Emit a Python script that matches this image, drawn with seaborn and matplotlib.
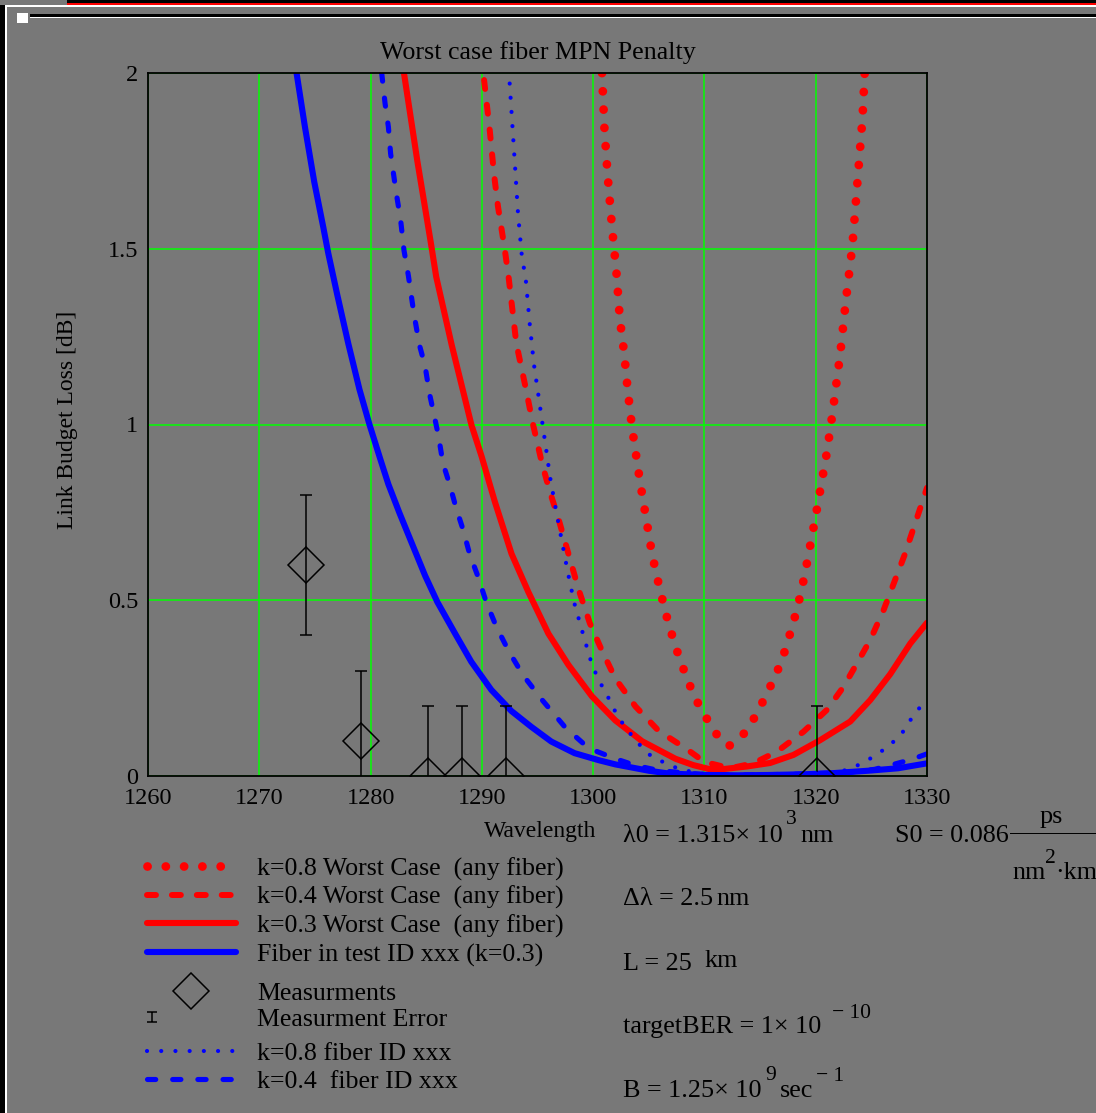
import numpy as np
import pandas as pd
import matplotlib
matplotlib.use("Agg")
import matplotlib.pyplot as plt
import seaborn as sns
from matplotlib.lines import Line2D
from matplotlib.patches import Rectangle
from matplotlib.path import Path

# ---------------- data ----------------
wl_rd08 = [1300.8, 1301.0, 1301.3, 1301.7, 1302.1, 1302.4, 1302.8, 1303.1, 1303.5, 1304.2,
           1305.3, 1306.0, 1306.8, 1307.8, 1309.1, 1310.9, 1312.2, 1313.6, 1314.7, 1315.5,
           1316.3, 1317.0, 1317.5, 1318.0, 1318.4, 1319.0, 1320.0, 1321.0, 1321.5, 1322.2,
           1322.7, 1323.3, 1323.8, 1324.2, 1324.4]
loss_rd08 = [2.00, 1.85, 1.71, 1.56, 1.43, 1.30, 1.20, 1.10, 0.99, 0.84,
             0.63, 0.53, 0.43, 0.33, 0.225, 0.125, 0.085, 0.122, 0.176, 0.228,
             0.279, 0.333, 0.384, 0.438, 0.484, 0.57, 0.74, 0.92, 1.03, 1.20,
             1.35, 1.51, 1.71, 1.87, 2.00]

wl_rd04 = [1290.2, 1290.7, 1291.1, 1291.45, 1292.05, 1292.4, 1293.1, 1293.9, 1294.6, 1295.4,
           1296.1, 1296.9, 1297.8, 1298.7, 1299.7, 1300.8, 1302.0, 1303.8, 1305.9, 1308.3,
           1310.0, 1312.3, 1314.4, 1316.5, 1318.9, 1321.0, 1322.5, 1323.7, 1324.9, 1326.1,
           1328.0, 1330.0]
loss_rd04 = [1.98, 1.84, 1.71, 1.62, 1.50, 1.42, 1.23, 1.11, 1.00, 0.89,
             0.81, 0.73, 0.63, 0.53, 0.435, 0.356, 0.277, 0.198, 0.128, 0.079,
             0.04, 0.022, 0.036, 0.069, 0.126, 0.188, 0.254, 0.32, 0.387, 0.472,
             0.63, 0.82]

wl_rs03 = [1283.0, 1284.2, 1285.4, 1285.9, 1287.3, 1289.07, 1289.97, 1291.17, 1292.67, 1294.17,
           1295.98, 1297.78, 1299.88, 1302.0, 1304.4, 1307.4, 1309.0, 1310.4, 1311.5, 1313.8,
           1315.9, 1318.0, 1320.4, 1323.1, 1324.9, 1326.7, 1328.5, 1330.0]
loss_rs03 = [2.0, 1.75, 1.52, 1.42, 1.225, 0.998, 0.91, 0.78, 0.632, 0.524,
             0.405, 0.316, 0.227, 0.158, 0.099, 0.049, 0.031, 0.02, 0.019, 0.027,
             0.037, 0.06, 0.102, 0.155, 0.216, 0.29, 0.377, 0.436]

wl_bs03 = [1273.35, 1274.1, 1274.94, 1275.74, 1276.2, 1277.0, 1278.0, 1279.0, 1279.9, 1280.9,
           1281.6, 1282.6, 1283.8, 1284.9, 1286.0, 1287.6, 1289.05, 1290.85, 1292.65, 1294.44,
           1296.24, 1298.33, 1300.5, 1302.0, 1305.0, 1306.8, 1310.0, 1313.0, 1316.0, 1319.0,
           1321.5, 1324.7, 1327.4, 1330.0]
loss_bs03 = [2.0, 1.847, 1.69, 1.563, 1.487, 1.37, 1.23, 1.10, 1.0, 0.899,
             0.83, 0.748, 0.655, 0.57, 0.495, 0.405, 0.325, 0.245, 0.185, 0.14,
             0.098, 0.065, 0.045, 0.033, 0.015, 0.007, 0.003, 0.002, 0.003, 0.005,
             0.008, 0.015, 0.022, 0.036]

wl_bd08 = [1292.5, 1292.95, 1293.25, 1293.57, 1293.96, 1294.29, 1294.68, 1295.05, 1295.41, 1295.77,
           1296.13, 1296.64, 1297.21, 1297.72, 1298.29, 1299.01, 1299.73, 1300.21, 1300.81, 1301.5,
           1302.1, 1302.94, 1304.02, 1305.29, 1306.64, 1307.84, 1310.0, 1313.0, 1316.0, 1319.0,
           1321.6, 1322.8, 1324.1, 1325.35, 1326.6, 1327.7, 1328.55, 1329.45, 1329.9]
loss_bd08 = [1.97, 1.75, 1.60, 1.487, 1.408, 1.29, 1.171, 1.09, 1.01, 0.931,
             0.85, 0.76, 0.665, 0.58, 0.494, 0.413, 0.334, 0.294, 0.255, 0.215,
             0.176, 0.136, 0.094, 0.054, 0.035, 0.018, 0.006, 0.002, 0.002, 0.005,
             0.011, 0.017, 0.035, 0.058, 0.086, 0.119, 0.161, 0.199, 0.215]

wl_bd04 = [1281.0, 1281.3, 1281.6, 1281.8, 1282.3, 1282.7, 1283.0, 1283.4, 1283.9, 1284.4,
           1284.9, 1285.3, 1285.7, 1286.1, 1286.5, 1287.1, 1287.7, 1288.3, 1288.9, 1289.7,
           1290.4, 1291.3, 1292.4, 1293.7, 1295.4, 1297.5, 1299.6, 1302.0, 1303.8, 1306.0,
           1310.0, 1314.0, 1318.0, 1321.0, 1323.5, 1325.3, 1327.1, 1328.6, 1330.0]
loss_bd04 = [2.0, 1.914, 1.847, 1.771, 1.66, 1.582, 1.496, 1.423, 1.314, 1.225,
             1.166, 1.087, 1.028, 0.968, 0.89, 0.83, 0.761, 0.702, 0.632, 0.563,
             0.494, 0.425, 0.356, 0.287, 0.217, 0.138, 0.079, 0.049, 0.03, 0.015,
             0.004, 0.003, 0.005, 0.008, 0.012, 0.019, 0.034, 0.047, 0.063]

meas_wl = [1274.2, 1279.1, 1285.2, 1288.2, 1292.2, 1320.1]
meas_loss = [0.6, 0.1, 0.0, 0.0, 0.0, 0.0]
meas_err = [0.2, 0.2, 0.2, 0.2, 0.2, 0.2]

x_ticks = [1260, 1270, 1280, 1290, 1300, 1310, 1320, 1330]
y_ticks = [0, 0.5, 1, 1.5, 2]
y_tick_labels = ["0", "0.5", "1", "1.5", "2"]

series_labels = ["k=0.8 Worst Case  (any fiber)", "k=0.4 Worst Case  (any fiber)",
                 "k=0.3 Worst Case  (any fiber)", "Fiber in test ID xxx (k=0.3)",
                 "Measurments", "Measurment Error",
                 "k=0.8 fiber ID xxx", "k=0.4  fiber ID xxx"]

# ---------------- styling ----------------
BG = "#787878"
sns.set_theme(style="white", rc={"axes.facecolor": BG, "figure.facecolor": BG})
plt.rcParams["font.family"] = ["Liberation Serif", "DejaVu Serif"]
plt.rcParams["text.color"] = "black"
plt.rcParams["axes.labelcolor"] = "black"
plt.rcParams["xtick.color"] = "black"
plt.rcParams["ytick.color"] = "black"

W, H = 1096, 1113
fig = plt.figure(figsize=(W / 100, H / 100), dpi=100)
fig.patch.set_facecolor(BG)

def fx(x):
    return x / W

def fy(y):
    return 1 - y / H

ax = fig.add_axes([fx(148), fy(776), (927 - 148) / W, (776 - 73) / H])
ax.set_facecolor(BG)

st = {
    "rd08": dict(color="#ff0000", linewidth=6.3, linestyle=(0, (0.01, 2.08)),
                 dash_capstyle="round"),
    "rd04": dict(color="#ff0000", linewidth=4.3, linestyle=(0, (1.5, 2.67)),
                 dash_capstyle="round"),
    "rs03": dict(color="#ff0000", linewidth=4.4, linestyle="-", solid_capstyle="round"),
    "bs03": dict(color="#0000ff", linewidth=4.4, linestyle="-", solid_capstyle="round"),
    "bd08": dict(color="#0000ff", linewidth=3.0, linestyle=(0, (0.01, 3.4)),
                 dash_capstyle="round"),
    "bd04": dict(color="#0000ff", linewidth=3.7, linestyle=(0, (1.6, 3.3)),
                 dash_capstyle="round"),
}

sns.lineplot(x=wl_rd08, y=loss_rd08, ax=ax, estimator=None, sort=False, **st["rd08"])
sns.lineplot(x=wl_rd04, y=loss_rd04, ax=ax, estimator=None, sort=False, **st["rd04"])
sns.lineplot(x=wl_rs03, y=loss_rs03, ax=ax, estimator=None, sort=False, **st["rs03"])
sns.lineplot(x=wl_bs03, y=loss_bs03, ax=ax, estimator=None, sort=False, **st["bs03"])
ax.errorbar(meas_wl, meas_loss, yerr=meas_err, fmt="D", ms=18, mfc="none", mec="black",
            mew=1.1, ecolor="black", elinewidth=1.1, capsize=4.3, capthick=1.1)
sns.lineplot(x=wl_bd08, y=loss_bd08, ax=ax, estimator=None, sort=False, **st["bd08"])
sns.lineplot(x=wl_bd04, y=loss_bd04, ax=ax, estimator=None, sort=False, **st["bd04"])

ax.set_xlim(1260, 1330)
ax.set_ylim(0, 2)
ax.set_xticks(x_ticks)
ax.set_xticklabels([str(t) for t in x_ticks])
ax.set_yticks(y_ticks)
ax.set_yticklabels(y_tick_labels)
ax.tick_params(axis="x", length=0, pad=8.4, labelsize=17.5)
ax.tick_params(axis="y", length=0, pad=7.0, labelsize=17.5)
ax.grid(True, color="#00ff00", linewidth=1.1)
ax.set_axisbelow(True)
for sp in ax.spines.values():
    sp.set_visible(True)
    sp.set_color("black")
    sp.set_linewidth(1.3)

ax.set_title("Worst case fiber MPN Penalty", fontsize=18.7, pad=10.0)
ax.set_xlabel("Wavelength", fontsize=17)
ax.xaxis.set_label_coords((540 - 148) / 779, (776 - 821) / 703)
ax.set_ylabel("Link Budget Loss [dB]", fontsize=17)
ax.yaxis.set_label_coords((78 - 148) / 779, (776 - 420) / 703)

# ---------------- legends ----------------
def handle(key):
    return Line2D([], [], **st[key])

LFS = 18.6
common = dict(frameon=False, fontsize=LFS, borderpad=0, borderaxespad=0, loc="upper left")
leg1 = fig.legend(handles=[handle("rd08"), handle("rd04"), handle("rs03"), handle("bs03")],
                  labels=series_labels[0:4], bbox_to_anchor=(fx(146.5), fy(857)),
                  handlelength=3.47, handletextpad=0.82, labelspacing=0.2, **common)

diamond = Line2D([], [], linestyle="none", marker="D", ms=18, mfc="none", mec="black", mew=1.1)
leg2 = fig.legend(handles=[diamond], labels=[series_labels[4]],
                  bbox_to_anchor=(fx(146.5), fy(982)),
                  handlelength=3.47, handletextpad=0.82, **common)

eb_path = Path([(-1, -1), (1, -1), (0, -1), (0, 1), (-1, 1), (1, 1)],
               [Path.MOVETO, Path.LINETO, Path.MOVETO, Path.LINETO, Path.MOVETO, Path.LINETO])
eb_handle = Line2D([], [], linestyle="none", marker=eb_path, ms=7.2, mfc="none",
                   mec="black", mew=1.1)
leg3 = fig.legend(handles=[eb_handle], labels=[series_labels[5]],
                  bbox_to_anchor=(fx(143.5), fy(1008)),
                  handlelength=0.66, handletextpad=3.74, **common)

leg4 = fig.legend(handles=[handle("bd08"), handle("bd04")], labels=series_labels[6:8],
                  bbox_to_anchor=(fx(146.5), fy(1042)),
                  handlelength=3.47, handletextpad=0.82, labelspacing=0.2, **common)

# ---------------- parameter block (Mathcad style) ----------------
PFS = 18.8
SFS = 15.5
def ptext(x, y, s, size=PFS):
    fig.text(fx(x), fy(y), s, fontsize=size, ha="left", va="baseline")

ptext(622.7, 841.7, "\u03bb0 = 1.315\u00d7 10")
ptext(786, 824, "3", SFS)
ptext(800.7, 841.7, "nm")

ptext(895, 841.7, "S0 = 0.086")
fig.add_artist(Rectangle((fx(1010), fy(834)), (W - 1010) / W, 1.5 / H,
                         transform=fig.transFigure, color="black", lw=0))
ptext(1040, 823.3, "ps")
ptext(1012.7, 879.3, "nm")
ptext(1045, 862.7, "2", SFS)
ptext(1055, 879.3, "\u00b7km")

ptext(622.7, 905, "\u0394\u03bb = 2.5")
ptext(716.7, 905, "nm")
ptext(622.7, 970, "L = 25")
ptext(705, 967, "km")
ptext(622.7, 1033.3, "targetBER = 1\u00d7 10")
ptext(832, 1017.7, "\u2212 10", SFS)
ptext(622.7, 1096.7, "B = 1.25\u00d7 10")
ptext(765, 1080, "9", SFS)
ptext(780, 1096.7, "sec")
ptext(816, 1081, "\u2212 1", SFS)

# ---------------- window frame decorations ----------------
def band(x0, y0, x1, y1, color):
    fig.add_artist(Rectangle((fx(x0), fy(y1)), (x1 - x0) / W, (y1 - y0) / H,
                             transform=fig.transFigure, color=color, lw=0, zorder=10))

band(67, 0, W, 3, "black")
band(67, 3, W, 5, "#ff0000")
band(5, 5, W, 6.5, "white")
band(30, 14, W, 16.5, "black")
band(30, 16.5, W, 18, "white")
band(0, 5, 5, H, "black")
band(5, 6, 7, H, "white")
band(17, 13, 28, 23, "white")

fig.savefig("out.png", dpi=100, facecolor=BG)
